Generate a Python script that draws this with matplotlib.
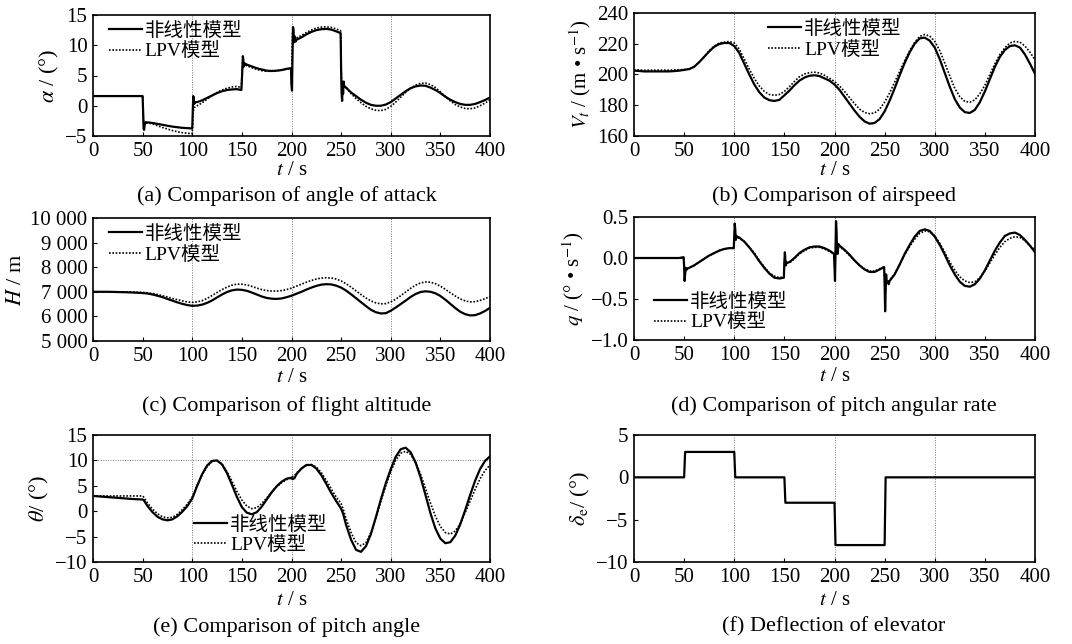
import matplotlib
matplotlib.use("Agg")
import matplotlib.pyplot as plt

plt.rcParams['font.family'] = ['Liberation Serif', 'Noto Sans CJK SC']
plt.rcParams['mathtext.fontset'] = 'stix'
plt.rcParams['axes.unicode_minus'] = True

# ---- (a) 攻角 alpha ----
t_a_nl = [0, 50, 50.5, 51, 51.5, 52, 53, 54, 55, 60, 65, 70, 75, 80, 85, 90, 95, 100,
          100.5, 101, 101.5, 102, 103, 105, 110, 115, 120, 125, 130, 135, 140, 145, 149.5,
          150.5, 151, 151.5, 152, 153, 155, 160, 165, 170, 175, 180, 185, 190, 195, 199.5,
          200, 200.5, 201, 201.5, 202, 202.5, 203, 204, 205, 210, 215, 220, 225, 230, 235,
          240, 245, 249.5, 250, 250.5, 251, 251.5, 252, 252.5, 253, 255, 260, 265, 270, 275,
          280, 285, 290, 295, 300, 305, 310, 315, 320, 325, 330, 335, 340, 345, 350, 355,
          360, 365, 370, 375, 380, 385, 390, 395, 400]
a_nl = [1.6, 1.6, -1, -3.8, -4.0, -3.2, -2.7, -2.8, -2.75, -2.85, -3.0, -3.15, -3.3, -3.45,
        -3.55, -3.65, -3.7, -3.75,
        -1, 1.6, 1.2, 0.3, 0.6, 0.6, 0.9, 1.3, 1.7, 2.1, 2.4, 2.6, 2.7, 2.75, 2.6,
        6, 8.2, 7.5, 6.5, 7.0, 6.8, 6.5, 6.2, 6.0, 5.8, 5.75, 5.8, 5.9, 6.1, 6.2,
        3.5, 2.5, 8, 13, 12.5, 10.5, 11.5, 10.6, 10.9, 11.3, 11.8, 12.2, 12.5, 12.65, 12.7,
        12.6, 12.3, 12.0, 6, 2, 0.8, 3.5, 2.0, 4, 3.3, 3.0, 2.2, 1.6, 1.0, 0.5,
        0.15, 0, 0, 0.2, 0.6, 1.2, 1.8, 2.4, 2.9, 3.2, 3.35, 3.3, 3.0, 2.6, 2.1, 1.5,
        1.0, 0.6, 0.3, 0.15, 0.15, 0.3, 0.6, 0.95, 1.35]
t_a_lpv = [0, 50, 51, 52, 53, 55, 60, 65, 70, 75, 80, 85, 90, 95, 100, 101, 102, 103, 105,
           110, 115, 120, 125, 130, 135, 140, 145, 149.5, 150.5, 151, 152, 153, 155, 160,
           165, 170, 175, 180, 185, 190, 195, 199.5, 200, 201, 201.5, 202, 203, 205, 210,
           215, 220, 225, 230, 235, 240, 245, 249.5, 250, 251, 252, 253, 255, 260, 265, 270,
           275, 280, 285, 290, 295, 300, 305, 310, 315, 320, 325, 330, 335, 340, 345, 350,
           355, 360, 365, 370, 375, 380, 385, 390, 395, 400]
a_lpv = [1.6, 1.6, -3, -3.3, -2.8, -2.8, -3.0, -3.3, -3.6, -3.85, -4.1, -4.3, -4.45, -4.55,
         -4.6, -1, -0.3, -0.2, 0, 0.5, 1.1, 1.7, 2.2, 2.6, 2.9, 3.1, 3.2, 3.0, 6.5, 7.5, 6.8,
         6.8, 6.6, 6.3, 6.0, 5.8, 5.7, 5.7, 5.75, 5.9, 6.05, 6.2, 3.5, 12, 12.5, 11.0, 11.0,
         11.2, 11.6, 12.1, 12.5, 12.85, 13.0, 13.05, 12.95, 12.7, 12.4, 6, 1.5, 3.5, 3.2, 3.0,
         2.0, 1.2, 0.5, -0.1, -0.5, -0.75, -0.8, -0.6, -0.1, 0.6, 1.4, 2.2, 2.9, 3.4, 3.7,
         3.75, 3.5, 3.0, 2.3, 1.5, 0.8, 0.2, -0.2, -0.45, -0.5, -0.35, 0, 0.45, 0.95]

# ---- (b) 空速 Vt ----
t5 = list(range(0, 401, 5))
v_nl = [202.5, 202.3, 202, 202, 202, 202, 202, 202, 202.2, 202.5, 203, 203.5, 205, 208,
        211.5, 215, 218, 219.8, 220.5, 220.5, 218.5, 214, 207, 200, 193.5, 188.5, 185,
        183.3, 182.8, 183.5, 186.5, 189.5, 193, 196, 198, 199.2, 199.5, 199, 197.5, 196,
        193.5, 190, 185.5, 181, 176.5, 172.5, 169.5, 168, 168.5, 171, 176, 183, 191, 199.5,
        207.5, 214.5, 220, 223.5, 224, 222, 217.5, 210, 201, 192, 184, 178.5, 175.5, 175,
        177, 182, 189, 197, 205, 211.5, 216, 218.5, 219, 217.5, 213, 207, 200.5]
v_lpv = [203, 203, 202.8, 202.8, 202.8, 202.8, 202.8, 202.8, 203, 203.1, 203.2, 203.6, 205,
         208, 211.5, 215.5, 218.5, 220.5, 221, 221.5, 220.5, 216.5, 210, 203.5, 197.5, 192.5,
         189, 187, 186.5, 187, 189, 192, 195.5, 198.5, 200.3, 201.2, 201.5, 201, 199.5, 197.5,
         195.5, 192.5, 189, 185, 181, 177.5, 175.3, 174.5, 175, 177.5, 182, 188, 195, 202,
         209, 215.5, 221, 224.8, 226, 225, 221.5, 215.5, 207.5, 199, 191, 185.5, 182.5, 182,
         183.5, 187.5, 193, 200, 207, 213, 217.5, 220.5, 221.5, 221, 218.5, 214.5, 209.5]

# ---- (c) 高度 H ----
h_nl = [7000, 7000, 7000, 7000, 6995, 6990, 6985, 6980, 6970, 6960, 6950, 6930, 6890, 6840,
        6780, 6710, 6640, 6570, 6510, 6460, 6430, 6440, 6480, 6550, 6650, 6770, 6890, 6990,
        7060, 7090, 7080, 7040, 6970, 6890, 6810, 6750, 6720, 6710, 6730, 6780, 6840, 6920,
        7000, 7090, 7170, 7240, 7290, 7310, 7300, 7250, 7170, 7050, 6900, 6740, 6580, 6420,
        6270, 6170, 6120, 6130, 6230, 6360, 6500, 6640, 6790, 6910, 6990, 7020, 7000, 6940,
        6830, 6680, 6510, 6340, 6190, 6090, 6040, 6050, 6120, 6220, 6350]
h_lpv = [7000, 7000, 7000, 7000, 7000, 7000, 6995, 6993, 6990, 6983, 6975, 6960, 6930, 6890,
         6840, 6790, 6730, 6680, 6630, 6590, 6570, 6590, 6640, 6730, 6850, 6970, 7090, 7190,
         7270, 7310, 7310, 7280, 7220, 7150, 7090, 7050, 7030, 7030, 7050, 7090, 7150, 7230,
         7310, 7390, 7460, 7520, 7560, 7570, 7560, 7520, 7440, 7330, 7190, 7040, 6890, 6750,
         6630, 6550, 6510, 6520, 6590, 6700, 6840, 6990, 7140, 7270, 7360, 7400, 7390, 7330,
         7230, 7100, 6960, 6830, 6710, 6630, 6590, 6600, 6650, 6720, 6810]

# ---- (d) 俯仰角速率 q ----
t_q_nl = [0, 45, 49.5, 50, 50.5, 51, 51.5, 52, 53, 55, 60, 65, 70, 75, 80, 85, 90, 95, 99.5,
          100, 100.5, 101, 101.5, 102, 103, 105, 110, 115, 120, 125, 130, 135, 140, 145,
          149.5, 150, 150.5, 151, 151.5, 152, 155, 160, 165, 170, 175, 180, 185, 190, 195,
          199.5, 200, 200.5, 201, 201.5, 202, 202.5, 203, 204, 205, 210, 215, 220, 225, 230,
          235, 240, 245, 249.5, 250, 250.5, 251, 251.5, 252, 253, 254, 255, 260, 265, 270,
          275, 280, 285, 290, 295, 300, 305, 310, 315, 320, 325, 330, 335, 340, 345, 350,
          355, 360, 365, 370, 375, 380, 385, 390, 395, 400]
q_nl = [0, 0, 0.01, -0.1, -0.28, -0.2, -0.12, -0.15, -0.13, -0.12, -0.09, -0.05, -0.01, 0.03,
        0.06, 0.09, 0.11, 0.12, 0.12, 0.25, 0.42, 0.35, 0.22, 0.27, 0.26, 0.25, 0.2, 0.13,
        0.05, -0.04, -0.12, -0.19, -0.24, -0.25, -0.24, -0.05, 0.07, -0.02, -0.09, -0.06,
        -0.05, 0.0, 0.06, 0.1, 0.13, 0.14, 0.14, 0.12, 0.09, 0.05, -0.1, -0.28, 0.1, 0.45,
        0.35, 0.1, 0.05, 0.17, 0.15, 0.1, 0.04, -0.03, -0.09, -0.14, -0.17, -0.17, -0.14,
        -0.11, -0.3, -0.65, -0.4, -0.2, -0.3, -0.28, -0.32, -0.28, -0.2, -0.08, 0.05, 0.16,
        0.26, 0.33, 0.35, 0.33, 0.26, 0.16, 0.04, -0.09, -0.2, -0.29, -0.34, -0.35, -0.32,
        -0.25, -0.15, -0.03, 0.09, 0.19, 0.27, 0.3, 0.31, 0.28, 0.22, 0.15, 0.07]
t_q_lpv = [0, 49.5, 50, 50.5, 51, 53, 55, 60, 65, 70, 75, 80, 85, 90, 95, 99.5, 100.5, 101,
           102, 105, 110, 115, 120, 125, 130, 135, 140, 145, 149.5, 150.5, 151, 152, 155,
           160, 165, 170, 175, 180, 185, 190, 195, 199.5, 200.5, 201.5, 202.5, 204, 205, 210,
           215, 220, 225, 230, 235, 240, 245, 249.5, 250.5, 251.5, 253, 255, 260, 265, 270,
           275, 280, 285, 290, 295, 300, 305, 310, 315, 320, 325, 330, 335, 340, 345, 350,
           355, 360, 365, 370, 375, 380, 385, 390, 395, 400]
q_lpv = [0, 0, -0.1, -0.22, -0.14, -0.13, -0.12, -0.09, -0.05, -0.01, 0.03, 0.06, 0.09, 0.11,
         0.12, 0.12, 0.35, 0.3, 0.25, 0.24, 0.2, 0.13, 0.06, -0.03, -0.11, -0.18, -0.22,
         -0.24, -0.23, 0.03, -0.05, -0.06, -0.06, -0.01, 0.05, 0.09, 0.12, 0.13, 0.13, 0.11,
         0.08, 0.05, -0.2, 0.3, 0.12, 0.15, 0.14, 0.09, 0.03, -0.03, -0.09, -0.13, -0.16,
         -0.16, -0.13, -0.11, -0.5, -0.25, -0.3, -0.27, -0.19, -0.08, 0.04, 0.14, 0.23, 0.3,
         0.33, 0.32, 0.27, 0.18, 0.07, -0.05, -0.15, -0.23, -0.28, -0.3, -0.29, -0.24, -0.16,
         -0.06, 0.04, 0.13, 0.2, 0.24, 0.26, 0.25, 0.21, 0.15, 0.1]

# ---- (e) 俯仰角 theta ----
t_th_nl = [0, 10, 20, 30, 40, 50, 51, 55, 60, 65, 70, 75, 80, 85, 90, 95, 100, 105, 110, 115,
           120, 125, 130, 135, 140, 145, 150, 155, 160, 165, 170, 175, 180, 185, 190, 195,
           200, 201, 203, 205, 210, 215, 220, 225, 230, 235, 240, 245, 250, 251, 252, 255,
           260, 265, 270, 275, 280, 285, 290, 295, 300, 305, 310, 315, 320, 325, 330, 335,
           340, 345, 350, 355, 360, 365, 370, 375, 380, 385, 390, 395, 400]
th_nl = [3.0, 2.85, 2.7, 2.55, 2.4, 2.3, 2.2, 1.0, -0.2, -1.1, -1.6, -1.8, -1.6, -1.0, -0.1,
         1.0, 2.5, 5.0, 7.3, 9.0, 9.9, 10.0, 9.2, 7.5, 5.2, 2.8, 0.8, -0.3, -0.6, -0.2, 0.9,
         2.3, 3.7, 4.9, 5.8, 6.4, 6.6, 6.3, 6.5, 7.3, 8.4, 9.1, 9.1, 8.4, 7.1, 5.4, 3.6, 2.0,
         0.5, 0, -0.5, -2.7, -5.6, -7.6, -8.0, -6.9, -4.5, -1.2, 2.3, 5.5, 8.3, 10.7, 12.2,
         12.5, 11.6, 9.6, 6.7, 3.2, -0.4, -3.4, -5.4, -6.3, -6.1, -4.8, -2.6, 0.2, 3.2, 6.0,
         8.3, 9.9, 10.8]
t_th_lpv = [0, 10, 20, 30, 40, 50, 51, 55, 60, 65, 70, 75, 80, 85, 90, 95, 100, 105, 110,
            115, 120, 125, 130, 135, 140, 145, 150, 155, 160, 165, 170, 175, 180, 185, 190,
            195, 200, 201, 203, 205, 210, 215, 220, 225, 230, 235, 240, 245, 250, 252, 255,
            260, 265, 270, 275, 280, 285, 290, 295, 300, 305, 310, 315, 320, 325, 330, 335,
            340, 345, 350, 355, 360, 365, 370, 375, 380, 385, 390, 395, 400]
th_lpv = [3.0, 3.0, 3.0, 3.0, 3.0, 3.0, 2.8, 1.6, 0.4, -0.5, -1.1, -1.3, -1.2, -0.6, 0.3, 1.4,
          2.8, 5.1, 7.2, 8.8, 9.8, 9.9, 9.3, 7.8, 5.9, 3.9, 2.2, 1.0, 0.5, 0.7, 1.5, 2.6, 3.8,
          4.8, 5.6, 6.2, 6.5, 6.8, 7.0, 7.5, 8.4, 9.0, 9.2, 8.7, 7.6, 6.1, 4.4, 2.8, 1.5, 0.5,
          -1.5, -4.2, -6.2, -6.8, -6.2, -4.2, -1.3, 1.9, 5.0, 7.8, 10.0, 11.4, 11.8, 11.2,
          9.6, 7.3, 4.5, 1.6, -1.0, -3.0, -4.2, -4.5, -3.9, -2.4, -0.3, 2.0, 4.3, 6.4, 8.0,
          9.1]

# ---- (f) 升降舵偏角 ----
t_de = [0, 50, 51, 100, 101, 150, 151, 200, 201, 250, 251, 400]
de = [0, 0, 3, 3, 0, 0, -3, -3, -8, -8, 0, 0]

legend_labels = ['非线性模型', 'LPV模型']
captions = ['(a) Comparison of angle of attack', '(b) Comparison of airspeed',
            '(c) Comparison of flight altitude', '(d) Comparison of pitch angular rate',
            '(e) Comparison of pitch angle', '(f) Deflection of elevator']

fig = plt.figure(figsize=(10.72, 6.44), dpi=100)
W, H = 1072.0, 644.0


def make_ax(l, t, r, b, xpad=0):
    ax = fig.add_axes([l / W, 1 - b / H, (r - l) / W, (b - t) / H])
    ax.set_xlim(0, 400)
    ax.set_xticks(range(0, 401, 50))
    for x in (100, 200, 300):
        ax.axvline(x, color='#777777', lw=0.7, ls=(0, (1, 1.5)), zorder=0)
    ax.tick_params(direction='in', length=3, labelsize=15, pad=4)
    for s in ax.spines.values():
        s.set_linewidth(1.2)
    ax.set_xlabel('$t$ / s', fontsize=15, labelpad=xpad)
    return ax


def pair(ax, t1, y1, t2, y2):
    l1, = ax.plot(t1, y1, color='black', lw=1.6)
    l2, = ax.plot(t2, y2, color='black', lw=1.2, ls=(0, (1, 1)))
    return l1, l2


def legend(ax, handles, anchor):
    ax.legend(handles, legend_labels, loc='upper left', bbox_to_anchor=anchor, frameon=False,
              fontsize=14, handlelength=1.7, handletextpad=0.15, labelspacing=0.12,
              borderpad=0.1, borderaxespad=0)


# (a)
ax = make_ax(93, 15, 490, 136, xpad=0)
h = pair(ax, t_a_nl, a_nl, t_a_lpv, a_lpv)
ax.set_ylim(-5, 15)
ax.set_yticks([-5, 0, 5, 10, 15])
ax.set_ylabel(r'$\alpha$ / (°)', fontsize=16, labelpad=3)
legend(ax, h, (0.035, 0.96))

# (b)
ax = make_ax(634, 13, 1035, 136, xpad=0)
h = pair(ax, t5, v_nl, t5, v_lpv)
ax.set_ylim(160, 240)
ax.set_yticks(range(160, 241, 20))
ax.set_ylabel(r'$V_t$ / (m • s$^{-1}$)', fontsize=15, labelpad=3)
legend(ax, h, (0.33, 0.96))

# (c)
ax = make_ax(93, 218, 490, 341, xpad=2)
h = pair(ax, t5, h_nl, t5, h_lpv)
ax.set_ylim(5000, 10000)
ax.set_yticks(range(5000, 10001, 1000))
ax.set_yticklabels(['5 000', '6 000', '7 000', '8 000', '9 000', '10 000'])
ax.set_ylabel('$H$ / m', fontsize=16, labelpad=3)
legend(ax, h, (0.035, 0.96))

# (d)
ax = make_ax(634, 217, 1035, 340, xpad=2)
h = pair(ax, t_q_nl, q_nl, t_q_lpv, q_lpv)
ax.set_ylim(-1.0, 0.5)
ax.set_yticks([-1.0, -0.5, 0.0, 0.5])
ax.set_yticklabels(['\u22121.0', '\u22120.5', '0.0', '0.5'])
ax.set_ylabel(r'$q$ / (° • s$^{-1}$)', fontsize=15, labelpad=3)
legend(ax, h, (0.045, 0.40))

# (e)
ax = make_ax(93, 435, 490, 562, xpad=3)
ax.axhline(10, color='#777777', lw=0.7, ls=(0, (1, 1.5)), zorder=0)
h = pair(ax, t_th_nl, th_nl, t_th_lpv, th_lpv)
ax.set_ylim(-10, 15)
ax.set_yticks([-10, -5, 0, 5, 10, 15])
ax.set_ylabel(r'$\theta$/ (°)', fontsize=16, labelpad=3)
legend(ax, h, (0.25, 0.38))

# (f)
ax = make_ax(634, 435, 1035, 562, xpad=3)
ax.plot(t_de, de, color='black', lw=1.6)
ax.set_ylim(-10, 5)
ax.set_yticks([-10, -5, 0, 5])
ax.set_ylabel(r'$\delta_{\rm e}$/ (°)', fontsize=16, labelpad=3)

# captions
for i, (cx, cy) in enumerate([(287, 196), (834, 196), (287, 406), (834, 406),
                              (287, 627), (834, 627)]):
    fig.text(cx / W, 1 - cy / H, captions[i], ha='center', va='center', fontsize=16)

fig.savefig('out.png', dpi=100)
